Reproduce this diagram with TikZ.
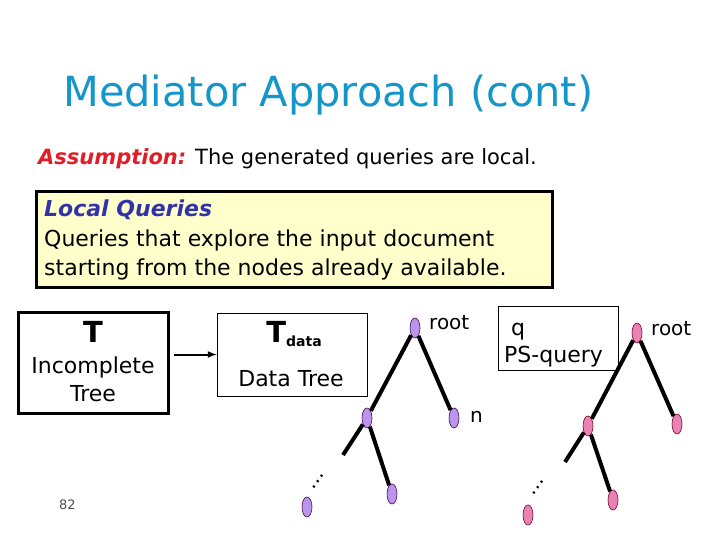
\documentclass[tikz,border=0pt]{standalone}
\usepackage{fontspec}
\setmainfont{DejaVu Sans}[ItalicFont={DejaVu Sans Oblique}, BoldItalicFont={DejaVu Sans Bold Oblique}]
\usepackage{xcolor}
\usetikzlibrary{shapes.geometric}
\definecolor{titleblue}{RGB}{20,150,200}
\definecolor{assumred}{RGB}{225,30,40}
\definecolor{lqblue}{RGB}{50,50,170}
\definecolor{noteyellow}{RGB}{255,255,204}
\definecolor{datapurple}{RGB}{185,150,235}
\definecolor{querypink}{RGB}{235,130,180}

\begin{document}
\begin{tikzpicture}[x=1pt, y=-1pt]
  % Style definitions
  \tikzstyle{txt} = [inner sep=0pt, anchor=base west, font=\fontsize{22}{26}\selectfont]
  \tikzstyle{ctxt} = [txt, anchor=base]
  \tikzstyle{lbl} = [txt, font=\fontsize{20}{24}\selectfont]
  \tikzstyle{frame} = [draw=black, inner sep=0pt]
  \tikzstyle{pnode} = [ellipse, draw=violet!60!black, fill=datapurple, minimum width=10pt, minimum height=20pt, inner sep=0pt, line width=0.6pt]
  \tikzstyle{qnode} = [pnode, draw=purple!60!black, fill=querypink]
  \tikzstyle{edge} = [line width=4pt]
  \tikzstyle{dotsrot} = [inner sep=0pt, rotate=55, font=\fontsize{20}{24}\selectfont]

  \useasboundingbox (0,0) rectangle (720,540);

  % Title and assumption
  \node (title) [txt, font=\fontsize{41.5}{50}\selectfont, text=titleblue] at (63,107) {Mediator Approach (cont)};
  \node (assum) [txt, font=\fontsize{21}{25}\selectfont] at (38,165) {\textcolor{assumred}{\textbf{\textit{Assumption:}}} The generated queries are local.};

  % Local queries box
  \node (lqbox) [frame, line width=3pt, fill=noteyellow, minimum width=516pt, minimum height=95pt] at (294,239.5) {};
  \node (lqhead) [txt, text=lqblue] at (44,217) {\textbf{\textit{Local Queries}}};
  \node (lqline1) [txt] at (44,247) {Queries that explore the input document};
  \node (lqline2) [txt] at (44,275) {starting from the nodes already available.};

  % Incomplete tree box
  \node (tbox) [frame, line width=3pt, minimum width=150pt, minimum height=101pt] at (93,362.5) {};
  \node (tname) [ctxt, font=\fontsize{29}{33}\selectfont\bfseries] at (93,342) {T};
  \node (tline1) [ctxt] at (93,373) {Incomplete};
  \node (tline2) [ctxt] at (93,401) {Tree};

  % Data tree box
  \node (dbox) [frame, line width=0.8pt, minimum width=150pt, minimum height=83pt] at (292,354.5) {};
  \node (dname) [ctxt, font=\fontsize{29}{33}\selectfont\bfseries] at (294,342) {T\raisebox{-4pt}{\fontsize{14}{16}\selectfont data}};
  \node (dline) [ctxt] at (291,386) {Data Tree};

  \draw[line width=2pt, -latex, shorten <=4pt] (tbox.east |- dbox.west) -- (dbox.west);

  % Query box
  \node (qbox) [frame, line width=0.8pt, minimum width=120pt, minimum height=64pt] at (558,338) {};
  \node (qname) [txt] at (511,335) {q};
  \node (qline) [txt] at (504,362) {PS-query};

  % Data tree
  \node (p0) [pnode] at (415,328) {};
  \node (p1) [pnode] at (367,418) {};
  \node (p2) [pnode] at (454,418) {};
  \node (p3) [pnode] at (392,494) {};
  \node (p4) [pnode] at (307,507) {};
  \coordinate (ps) at (343,455);
  \node (proot) [lbl] at (429,329) {root};
  \node (pn) [lbl] at (470,422) {n};
  \node (pdots) [dotsrot] at (318,482) {\dots};
  \draw[edge] (p0) -- (p1);
  \draw[edge] (p0) -- (p2);
  \draw[edge] (p1) -- (p3);
  \draw[edge] (p1) -- (ps);

  % Query tree
  \node (q0) [qnode] at (637,333) {};
  \node (q1) [qnode] at (588,426) {};
  \node (q2) [qnode] at (677,424) {};
  \node (q3) [qnode] at (613,500) {};
  \node (q4) [qnode] at (528,515) {};
  \coordinate (qs) at (565,462);
  \node (qroot) [lbl] at (651,335) {root};
  \node (qdots) [dotsrot] at (538,488) {\dots};
  \draw[edge] (q0) -- (q1);
  \draw[edge] (q0) -- (q2);
  \draw[edge] (q1) -- (q3);
  \draw[edge] (q1) -- (qs);

  % Page number
  \node (pageno) [txt, font=\fontsize{13}{15}\selectfont, text=black!70] at (59,509) {82};
\end{tikzpicture}
\end{document}
